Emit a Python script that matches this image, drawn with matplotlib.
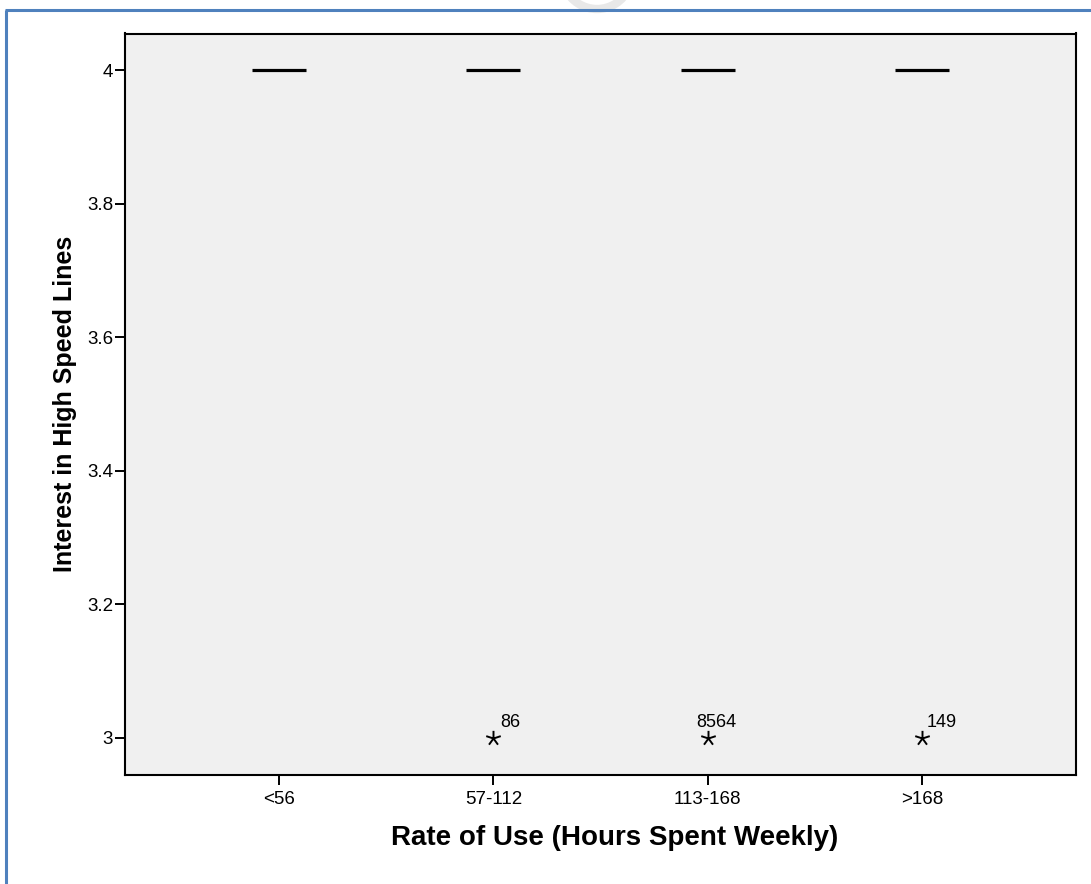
import numpy as np
import matplotlib
matplotlib.use("Agg")
import matplotlib.pyplot as plt
from matplotlib.path import Path
from matplotlib.lines import Line2D
from matplotlib.patches import Arc

# ---- data ----
categories = ["<56", "57-112", "113-168", ">168"]
medians = [4, 4, 4, 4]
outlier_category = ["57-112", "113-168", ">168"]
outlier_values = [3, 3, 3]
outlier_labels = ["86", "8564", "149"]
y_ticks = [3.0, 3.2, 3.4, 3.6, 3.8, 4.0]
y_tick_labels = ["3", "3.2", "3.4", "3.6", "3.8", "4"]

# label offsets (points) relative to each outlier marker
label_offsets = [(5, 8), (-8, 8), (3.6, 8)]

plt.rcParams["font.family"] = ["Liberation Sans", "DejaVu Sans"]

W, H, DPI = 1091, 884, 100
fig = plt.figure(figsize=(W / DPI, H / DPI), dpi=DPI, facecolor="white")

# axes rectangle in pixels
left, right, top, bottom = 125, 1076, 33.5, 774.7
ax = fig.add_axes([left / W, (H - bottom) / H, (right - left) / W, (bottom - top) / H])
ax.set_facecolor("#F0F0F0")

x = np.arange(len(categories))
half_w = 0.126
ax.hlines(medians, x - half_w, x + half_w, colors="black", linewidth=2.3)

# five-spoke asterisk marker for extreme values
angles = np.deg2rad(90 + 72 * np.arange(5))
verts, codes = [], []
for a in angles:
    verts += [(0, 0), (np.cos(a), np.sin(a))]
    codes += [Path.MOVETO, Path.LINETO]
star = Path(verts, codes)

ox = [categories.index(c) for c in outlier_category]
ax.plot(ox, outlier_values, linestyle="none", marker=star, markersize=11,
        markerfacecolor="none", markeredgecolor="black", markeredgewidth=1.4)
for xi, yi, lab, off in zip(ox, outlier_values, outlier_labels, label_offsets):
    ax.annotate(lab, (xi, yi), xytext=off, textcoords="offset points",
                ha="left", va="baseline", fontsize=13, color="black")

ax.set_xlim(-0.72, len(categories) - 1 + 0.72)
ax.set_ylim(2.9445, 4.055)
ax.set_xticks(x)
ax.set_xticklabels(categories)
ax.set_yticks(y_ticks)
ax.set_yticklabels(y_tick_labels)
ax.tick_params(axis="both", direction="out", length=7.5, width=1.4, labelsize=13.5,
               colors="black")
ax.tick_params(axis="y", pad=1)
ax.tick_params(axis="x", pad=4)
for s in ax.spines.values():
    s.set_linewidth(1.5)
    s.set_color("black")

ax.set_xlabel("Rate of Use (Hours Spent Weekly)", fontsize=20, fontweight="bold")
ax.xaxis.set_label_coords((615 - left) / (right - left), -(838 - bottom) / (bottom - top))
ax.xaxis.label.set_va("center")
ax.set_ylabel("Interest in High Speed Lines", fontsize=18, fontweight="bold", labelpad=7)

# page frame lines and faint watermark
def px_line(xs, ys, **kw):
    fig.add_artist(Line2D([v / W for v in xs], [1 - v / H for v in ys],
                          transform=fig.transFigure, **kw))

fig.add_artist(Arc((597 / W, 1 + 26 / H), 70 / W, 70 / H, theta1=210, theta2=330,
                   transform=fig.transFigure, color="#E8E8E8", linewidth=6, zorder=0))
px_line([5, W], [10, 10], color="#4F81BD", linewidth=2.2, solid_capstyle="butt")
px_line([6, 6], [10, H], color="#4F81BD", linewidth=2.2, solid_capstyle="butt")

fig.savefig("out.png", dpi=DPI, facecolor="white")
